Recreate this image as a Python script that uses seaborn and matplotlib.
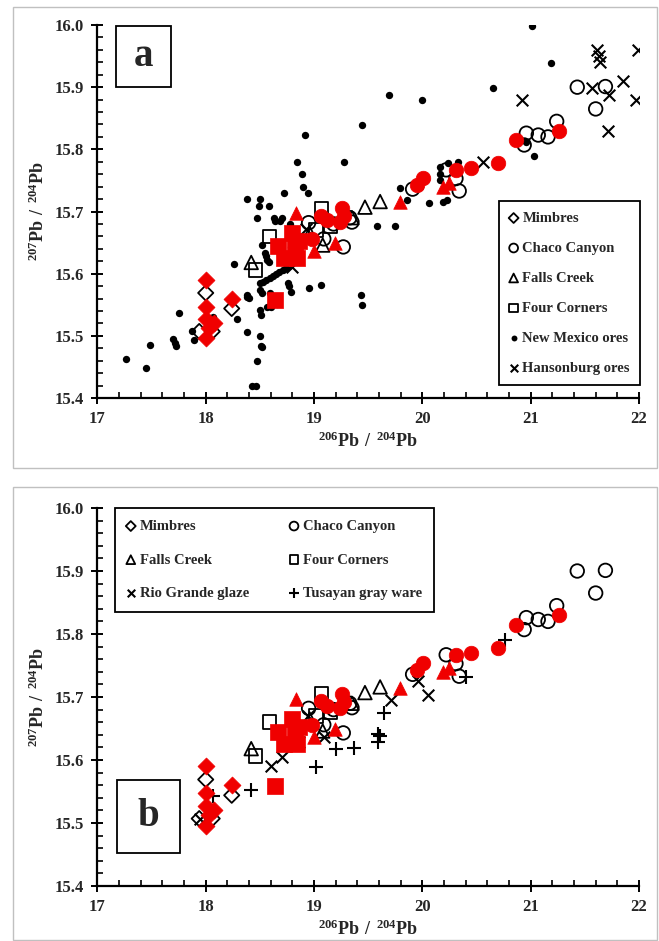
import numpy as np
import matplotlib
matplotlib.use("Agg")
import matplotlib.pyplot as plt
from matplotlib.patches import Rectangle
from matplotlib.ticker import MultipleLocator, FormatStrFormatter
import seaborn as sns

# ---- data: 206Pb/204Pb (x) and 207Pb/204Pb (y) ----
mimbres_x = [18.00, 18.24, 17.94, 18.06]
mimbres_y = [15.569, 15.544, 15.507, 15.507]

chaco_x = [18.95, 19.09, 19.27, 19.35, 19.33, 19.18, 19.91, 20.22, 20.31, 20.34,
           20.94, 20.96, 21.07, 21.16, 21.24, 21.43, 21.60, 21.69]
chaco_y = [15.682, 15.656, 15.643, 15.683, 15.690, 15.680, 15.736, 15.767, 15.753, 15.733,
           15.807, 15.826, 15.823, 15.820, 15.845, 15.900, 15.865, 15.901]

falls_x = [18.42, 18.96, 19.08, 19.35, 19.47, 19.61]
falls_y = [15.618, 15.665, 15.646, 15.690, 15.707, 15.716]

fourc_x = [18.46, 18.59, 19.02, 19.07, 19.15]
fourc_y = [15.606, 15.660, 15.670, 15.705, 15.676]

red_diamond_x = [18.00, 18.00, 18.00, 18.08, 18.00, 18.24, 18.03]
red_diamond_y = [15.590, 15.547, 15.527, 15.521, 15.496, 15.560, 15.512]

red_circle_x = [18.98, 19.06, 19.12, 19.26, 19.28, 19.24, 19.95, 20.01, 20.31, 20.45,
                20.70, 20.86, 21.26]
red_circle_y = [15.655, 15.693, 15.686, 15.705, 15.692, 15.683, 15.743, 15.754, 15.767, 15.770,
                15.778, 15.815, 15.830]

red_triangle_x = [18.83, 19.00, 19.19, 19.79, 20.19, 20.25]
red_triangle_y = [15.697, 15.636, 15.649, 15.715, 15.740, 15.746]

red_square_x = [18.67, 18.72, 18.80, 18.82, 18.84, 18.86, 18.64]
red_square_y = [15.645, 15.625, 15.665, 15.645, 15.625, 15.652, 15.558]

nm_ores_x = [21.01, 21.19, 20.65, 19.69, 20.00, 19.44, 18.92, 18.84, 19.28, 18.89,
             18.90, 18.94, 18.72, 18.38, 18.50, 18.49, 18.58, 18.47, 18.63, 18.70,
             18.64, 18.69, 18.78, 18.52, 18.56, 18.57, 18.26, 18.79, 18.71, 18.50,
             18.53, 18.56, 18.59, 18.62, 18.65, 18.68, 18.71, 18.74, 18.77, 18.38,
             18.40, 18.50, 18.52, 18.59, 18.60, 18.66, 18.76, 18.77, 18.79, 18.95,
             19.06, 19.58, 19.75, 19.43, 19.44, 20.06, 19.79, 19.86, 20.16, 20.16,
             20.19, 20.23, 20.24, 20.33, 20.96, 21.03, 20.03, 20.16, 19.98, 17.75,
             17.87, 17.89, 17.70, 17.72, 17.73, 17.49, 17.26, 17.45, 18.07, 18.29,
             18.38, 18.50, 18.51, 18.52, 18.47, 18.43, 18.46, 18.50, 18.51, 18.57,
             18.38, 18.55, 18.58]
nm_ores_y = [15.998, 15.939, 15.899, 15.887, 15.879, 15.839, 15.823, 15.779, 15.779, 15.760,
             15.739, 15.730, 15.730, 15.720, 15.720, 15.709, 15.709, 15.689, 15.689, 15.689,
             15.684, 15.684, 15.680, 15.646, 15.628, 15.622, 15.615, 15.643, 15.628, 15.585,
             15.587, 15.590, 15.593, 15.597, 15.600, 15.603, 15.606, 15.609, 15.612, 15.566,
             15.561, 15.574, 15.569, 15.569, 15.547, 15.552, 15.585, 15.580, 15.571, 15.577,
             15.582, 15.677, 15.677, 15.565, 15.549, 15.713, 15.737, 15.719, 15.772, 15.761,
             15.716, 15.718, 15.778, 15.779, 15.811, 15.790, 15.753, 15.751, 15.740, 15.537,
             15.507, 15.494, 15.495, 15.489, 15.483, 15.486, 15.462, 15.448, 15.531, 15.527,
             15.506, 15.499, 15.483, 15.482, 15.460, 15.419, 15.420, 15.542, 15.534, 15.546,
             15.563, 15.634, 15.618]

hans_x = [21.61, 21.63, 21.64, 21.995, 21.85, 21.57, 21.72, 21.97, 20.92, 21.71,
          20.56, 18.80, 18.93]
hans_y = [15.959, 15.950, 15.941, 15.959, 15.910, 15.898, 15.887, 15.879, 15.879, 15.830,
          15.779, 15.610, 15.672]

rio_x = [17.95, 18.60, 18.70, 18.84, 18.86, 18.94, 19.09, 19.71, 19.96, 20.05]
rio_y = [15.507, 15.591, 15.605, 15.625, 15.628, 15.670, 15.636, 15.695, 15.725, 15.703]

tusayan_x = [18.07, 18.42, 19.02, 19.20, 19.37, 19.59, 19.61, 19.59, 19.65, 20.40, 20.76]
tusayan_y = [15.543, 15.552, 15.589, 15.618, 15.619, 15.642, 15.638, 15.628, 15.674, 15.732, 15.791]

x_ticks = [17, 18, 19, 20, 21, 22]
y_ticks = [15.4, 15.5, 15.6, 15.7, 15.8, 15.9, 16.0]

# ---- style ----
sns.set_style("ticks")
plt.rcParams["font.family"] = ["Liberation Serif", "DejaVu Serif"]
plt.rcParams["font.weight"] = "bold"
plt.rcParams["mathtext.fontset"] = "custom"
plt.rcParams["mathtext.rm"] = "Liberation Serif"
plt.rcParams["mathtext.bf"] = "Liberation Serif:bold"

W, H = 659, 941
fig = plt.figure(figsize=(W / 100, H / 100), dpi=100)
fig.patch.set_facecolor("white")

RED = "#f00000"
open_kw = dict(facecolor="none", edgecolor="black", linewidth=1.3)
legend_font = {"family": "Liberation Serif", "weight": "bold", "size": 10.5}


def px_box(x0, y0, x1, y1):
    return [x0 / W, 1 - y1 / H, (x1 - x0) / W, (y1 - y0) / H]


# panel frames
for (x0, y0, x1, y1) in [(13, 7, 657, 468), (13, 487, 657, 940)]:
    fig.add_artist(Rectangle((x0 / W, 1 - y1 / H), (x1 - x0) / W, (y1 - y0) / H,
                             transform=fig.transFigure, fill=False,
                             edgecolor="#c0c0c0", linewidth=1.0))

ax_a = fig.add_axes(px_box(97.4, 25, 639, 398))
ax_b = fig.add_axes(px_box(97.4, 508, 639, 886))


def common_points(ax):
    sns.scatterplot(x=mimbres_x, y=mimbres_y, marker="D", s=60, ax=ax,
                    label="Mimbres", **open_kw)
    sns.scatterplot(x=chaco_x, y=chaco_y, marker="o", s=95, ax=ax,
                    label="Chaco Canyon", **open_kw)
    sns.scatterplot(x=falls_x, y=falls_y, marker="^", s=95, ax=ax,
                    label="Falls Creek", **open_kw)
    sns.scatterplot(x=fourc_x, y=fourc_y, marker="s", s=95, ax=ax,
                    label="Four Corners", **open_kw)


def red_points(ax):
    sns.scatterplot(x=red_diamond_x, y=red_diamond_y, marker="D", s=75, color=RED,
                    edgecolor=RED, linewidth=0.5, ax=ax, zorder=4)
    sns.scatterplot(x=red_circle_x, y=red_circle_y, marker="o", s=110, color=RED,
                    edgecolor=RED, linewidth=0.5, ax=ax, zorder=4)
    sns.scatterplot(x=red_triangle_x, y=red_triangle_y, marker="^", s=95, color=RED,
                    edgecolor=RED, linewidth=0.5, ax=ax, zorder=4)
    sns.scatterplot(x=red_square_x, y=red_square_y, marker="s", s=120, color=RED,
                    edgecolor=RED, linewidth=0.5, ax=ax, zorder=4)


def style_axes(ax, letter, box):
    ax.set_xlim(17, 22)
    ax.set_ylim(15.4, 16.0)
    ax.set_xticks(x_ticks)
    ax.set_yticks(y_ticks)
    ax.xaxis.set_minor_locator(MultipleLocator(0.2))
    ax.yaxis.set_minor_locator(MultipleLocator(0.02))
    ax.yaxis.set_major_formatter(FormatStrFormatter("%.1f"))
    ax.tick_params(which="major", direction="inout", length=9, width=1.4,
                   labelsize=12, pad=5, color="black")
    ax.tick_params(which="minor", direction="in", length=4, width=1.2, color="black")
    for t in ax.get_xticklabels() + ax.get_yticklabels():
        t.set_fontweight("bold")
    for side in ["top", "right"]:
        ax.spines[side].set_visible(False)
    for side in ["left", "bottom"]:
        ax.spines[side].set_linewidth(1.6)
        ax.spines[side].set_color("black")
    ax.set_xlabel(r"$\mathbf{^{206}Pb\ /\ ^{204}Pb}$", fontsize=13, labelpad=3)
    ax.set_ylabel(r"$\mathbf{^{207}Pb\ /\ ^{204}Pb}$", fontsize=13, labelpad=5)
    bx0, by0, bx1, by1 = box
    ax.add_patch(Rectangle((bx0, by0), bx1 - bx0, by1 - by0, fill=True,
                           facecolor="white", edgecolor="black", linewidth=1.3,
                           zorder=5, clip_on=False))
    ax.text((bx0 + bx1) / 2, (by0 + by1) / 2, letter, fontsize=28, fontweight="bold",
            ha="center", va="center", zorder=6)


# ---- panel a ----
sns.scatterplot(x=nm_ores_x, y=nm_ores_y, marker="o", s=28, color="black",
                edgecolor="black", linewidth=0, ax=ax_a, label="New Mexico ores", zorder=2)
common_points(ax_a)
sns.scatterplot(x=hans_x, y=hans_y, marker="x", s=70, color="black", linewidth=1.5,
                ax=ax_a, label="Hansonburg ores")
red_points(ax_a)
style_axes(ax_a, "a", (17.17, 15.901, 17.68, 15.999))

h, l = ax_a.get_legend_handles_labels()
order_a = ["Mimbres", "Chaco Canyon", "Falls Creek", "Four Corners",
           "New Mexico ores", "Hansonburg ores"]
hd = dict(zip(l, h))
leg = ax_a.legend([hd[k] for k in order_a], order_a, loc="upper right",
                  bbox_to_anchor=(1.002, 0.527), frameon=True, fancybox=False,
                  edgecolor="black", framealpha=1, markerscale=0.65,
                  handlelength=0.6, handletextpad=0.3, labelspacing=1.15,
                  borderpad=0.7, borderaxespad=0, prop=legend_font)
leg.get_frame().set_linewidth(1.3)
leg.legend_handles[4].set_sizes([18])

# ---- panel b ----
common_points(ax_b)
sns.scatterplot(x=rio_x, y=rio_y, marker="x", s=70, color="black", linewidth=1.5,
                ax=ax_b, label="Rio Grande glaze")
sns.scatterplot(x=tusayan_x, y=tusayan_y, marker="+", s=110, color="black", linewidth=1.5,
                ax=ax_b, label="Tusayan gray ware")
red_points(ax_b)
style_axes(ax_b, "b", (17.18, 15.453, 17.76, 15.568))

h, l = ax_b.get_legend_handles_labels()
hd = dict(zip(l, h))
order_b = ["Mimbres", "Falls Creek", "Rio Grande glaze",
           "Chaco Canyon", "Four Corners", "Tusayan gray ware"]
leg = ax_b.legend([hd[k] for k in order_b], order_b, loc="upper left", ncol=2,
                  bbox_to_anchor=(0.032, 1.0), frameon=True, fancybox=False,
                  edgecolor="black", framealpha=1, markerscale=0.65,
                  handlelength=0.6, handletextpad=0.3, labelspacing=1.4,
                  columnspacing=2.8, borderpad=0.8, borderaxespad=0, prop=legend_font)
leg.get_frame().set_linewidth(1.3)

fig.savefig("out.png", dpi=100, facecolor="white")
